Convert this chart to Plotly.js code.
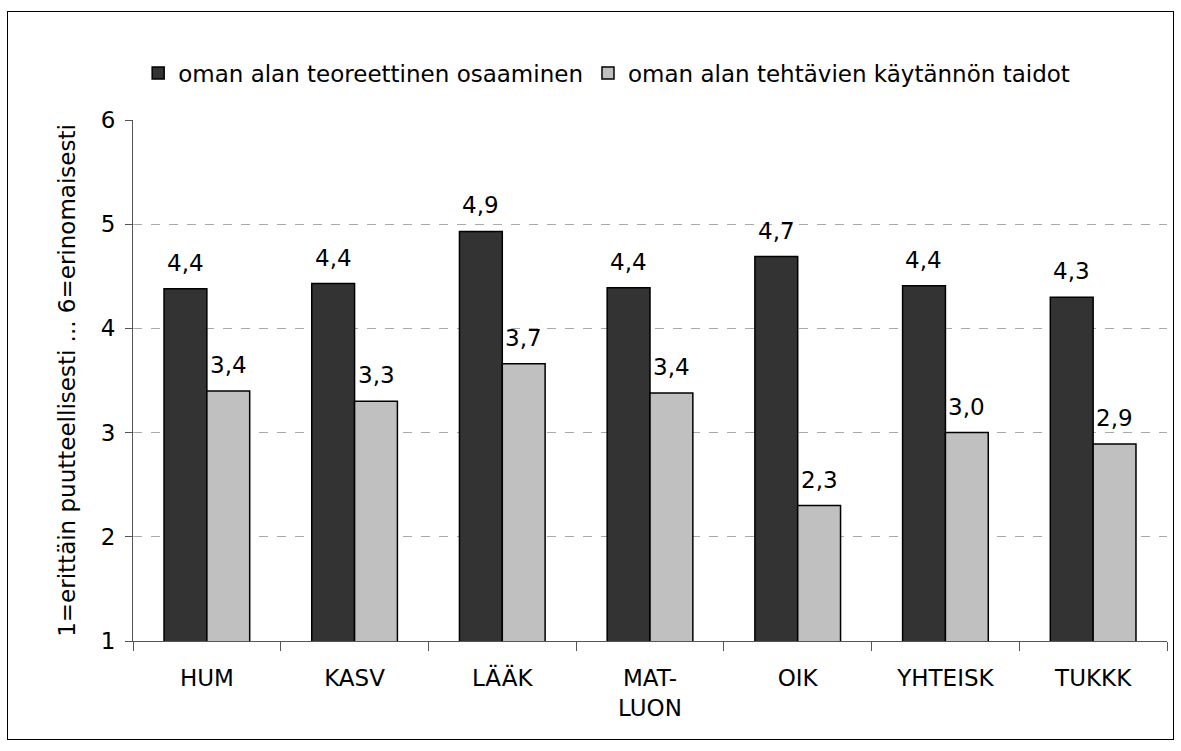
<!DOCTYPE html>
<html><head><meta charset="utf-8">
<script src="https://cdn.plot.ly/plotly-3.0.1.min.js"></script>
<style>
html,body{margin:0;padding:0;background:#fff;}
#wrap{position:absolute;left:0;top:0;width:1181px;height:751px;}
#frame{position:absolute;left:7px;top:11px;width:1165px;height:727px;border:1px solid #000;pointer-events:none;}
#chart{position:absolute;left:0;top:0;width:1181px;height:751px;}
</style></head>
<body><div id="wrap"><div id="chart"></div><div id="frame"></div></div>
<script>
const categories = ["HUM","KASV","LÄÄK","MAT-<br>LUON","OIK","YHTEISK","TUKKK"];
const teoreettinen = [4.38, 4.43, 4.93, 4.39, 4.69, 4.41, 4.30];
const kaytannon = [3.40, 3.30, 3.66, 3.38, 2.30, 3.00, 2.89];
const seriesNames = ["oman alan teoreettinen osaaminen","oman alan tehtävien käytännön taidot"];
const yTitle = "1=erittäin puutteellisesti ... 6=erinomaisesti";

const font = {family:"DejaVu Sans, Verdana, sans-serif", size:23, color:"#000"};
const traces = [
 {type:"bar", x:categories, y:teoreettinen, name:seriesNames[0],
  marker:{color:"#333333", line:{color:"#000", width:1.5}}, hoverinfo:"none"},
 {type:"bar", x:categories, y:kaytannon, name:seriesNames[1],
  marker:{color:"#c0c0c0", line:{color:"#000", width:1.5}}, hoverinfo:"none"}
];
const fmt = v => v.toFixed(1).replace(".", ",");
const annotations = [];
[teoreettinen, kaytannon].forEach((vals, s) => {
  vals.forEach((v, i) => {
    annotations.push({x:categories[i], y:v, xref:"x", yref:"y", text:fmt(v),
      showarrow:false, xanchor:"center", yanchor:"bottom",
      xshift:(s === 0 ? -21.5 : 21.5), yshift:11, font:font});
  });
});
const layout = {
 width:1181, height:751,
 margin:{l:133, r:14, t:120, b:110},
 paper_bgcolor:"rgba(0,0,0,0)", plot_bgcolor:"rgba(0,0,0,0)",
 font:font, separators:",.",
 barmode:"group", bargap:0.42, bargroupgap:0,
 showlegend:true,
 legend:{orientation:"h", x:0.005, xanchor:"left", y:1 + 47/521, yanchor:"middle",
   font:font, itemwidth:30, tracegroupgap:0, traceorder:"normal"},
 annotations:annotations,
 xaxis:{type:"category", tickson:"boundaries", ticks:"outside", ticklen:9,
   tickcolor:"#555", showline:true, linecolor:"#555", linewidth:1,
   showgrid:false, tickfont:font, automargin:false, ticklabelstandoff:16},
 yaxis:{range:[1,6], dtick:1, tick0:1, ticks:"outside", ticklen:7, tickcolor:"#555",
   showline:true, linecolor:"#555", linewidth:1,
   showgrid:true, gridcolor:"#aaaaaa", griddash:"dash", gridwidth:1,
   zeroline:false, tickfont:font, automargin:false, ticklabelstandoff:5,
   title:{text:yTitle, font:font, standoff:18}}
};
Plotly.newPlot("chart", traces, layout, {staticPlot:true});
</script></body></html>
